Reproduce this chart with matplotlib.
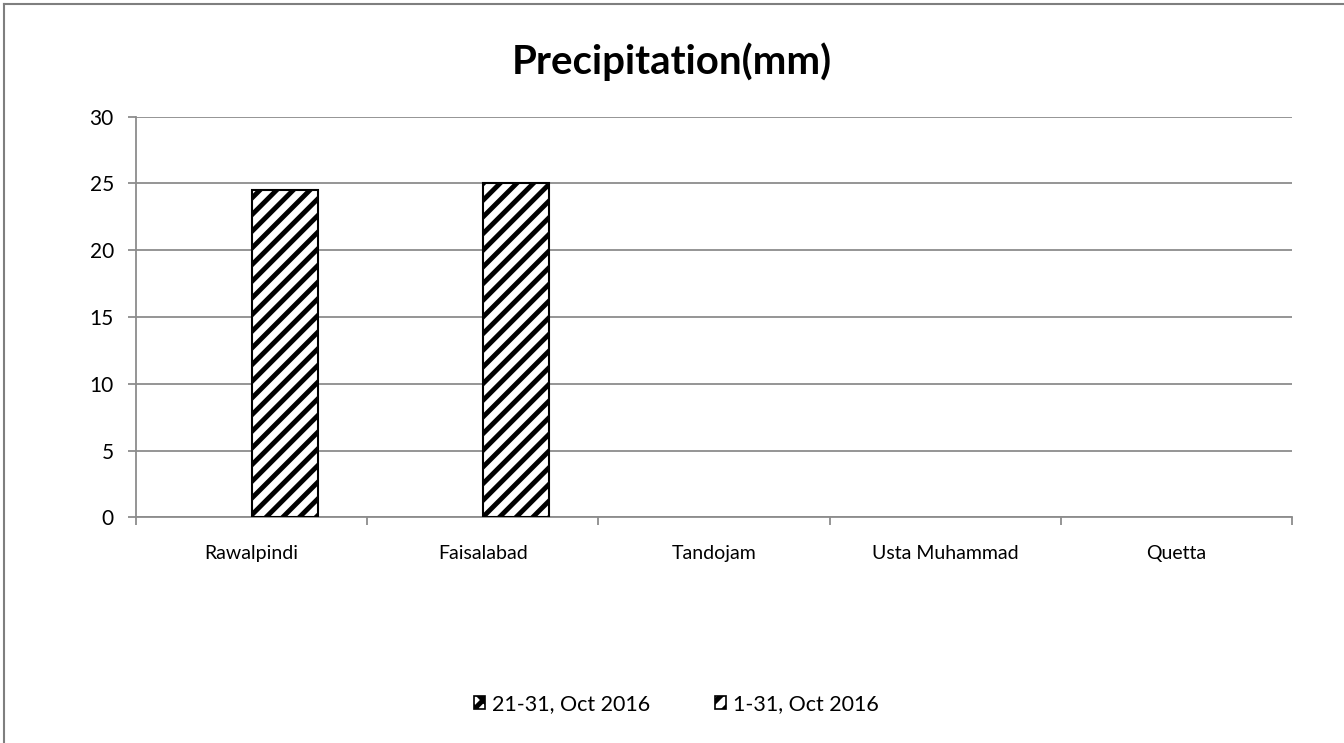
import numpy as np
import matplotlib
matplotlib.use("Agg")
import matplotlib.pyplot as plt
from matplotlib.lines import Line2D
from matplotlib.patches import Patch

# data
stations = ["Rawalpindi", "Faisalabad", "Tandojam", "Usta Muhammad", "Quetta"]
late_oct = [0, 0, 0, 0, 0]          # 21-31, Oct 2016
full_oct = [24.5, 25, 0, 0, 0]      # 1-31, Oct 2016
series_names = ["21-31, Oct 2016", "1-31, Oct 2016"]
y_ticks = [0, 5, 10, 15, 20, 25, 30]

plt.rcParams["font.family"] = ["Lato", "DejaVu Sans"]
plt.rcParams["hatch.color"] = "black"
plt.rcParams["hatch.linewidth"] = 3.5

grid_col = "#8c8c8c"

fig = plt.figure(figsize=(13.44, 7.43), dpi=100)
ax = fig.add_axes([0.1012, 0.3035, 0.8601, 0.5397])

x = np.arange(len(stations))
w = 0.288
hatches = ["xx", "//"]
for k, vals in enumerate([late_oct, full_oct]):
    # zero-height bars leave no mark, as in the original
    edges = ["black" if v > 0 else "none" for v in vals]
    ax.bar(x + (k - 0.5) * w, vals, w, color="white", edgecolor=edges,
           hatch=hatches[k], linewidth=1.5, zorder=3)

ax.set_xlim(-0.5, len(stations) - 0.5)
ax.set_ylim(0, 30)
ax.set_yticks(y_ticks)
ax.set_xticks(x)
ax.set_xticklabels(stations, fontsize=14)
ax.set_xticks(np.arange(len(stations) + 1) - 0.5, minor=True)
ax.tick_params(axis="x", which="major", length=0, pad=20)
ax.tick_params(axis="x", which="minor", length=6, color=grid_col, width=1.3)
ax.tick_params(axis="y", length=6, color=grid_col, width=1.3, labelsize=15, pad=10)

ax.grid(axis="y", color=grid_col, linewidth=1.3, zorder=0)
for side in ["top", "right"]:
    ax.spines[side].set_visible(False)
for side in ["left", "bottom"]:
    ax.spines[side].set_color(grid_col)
    ax.spines[side].set_linewidth(1.3)

fig.text(0.5, 0.917, "Precipitation(mm)", ha="center", va="center",
         fontsize=29, fontweight="bold")

handles = [Patch(facecolor="white", edgecolor="black", hatch=h, linewidth=1.2)
           for h in hatches]
fig.legend(handles, series_names, loc="center", bbox_to_anchor=(0.503, 0.052), ncol=2,
           frameon=False, fontsize=15.5, handlelength=0.55, handleheight=0.55,
           handletextpad=0.3, columnspacing=3.0)

# outer chart border (left and top edges visible)
fig.add_artist(Line2D([4 / 1344, 4 / 1344], [0, 1 - 4 / 743], transform=fig.transFigure,
                      color="#7f7f7f", linewidth=1.5))
fig.add_artist(Line2D([4 / 1344, 1], [1 - 4 / 743, 1 - 4 / 743], transform=fig.transFigure,
                      color="#7f7f7f", linewidth=1.5))

fig.savefig("out.png", dpi=100)
